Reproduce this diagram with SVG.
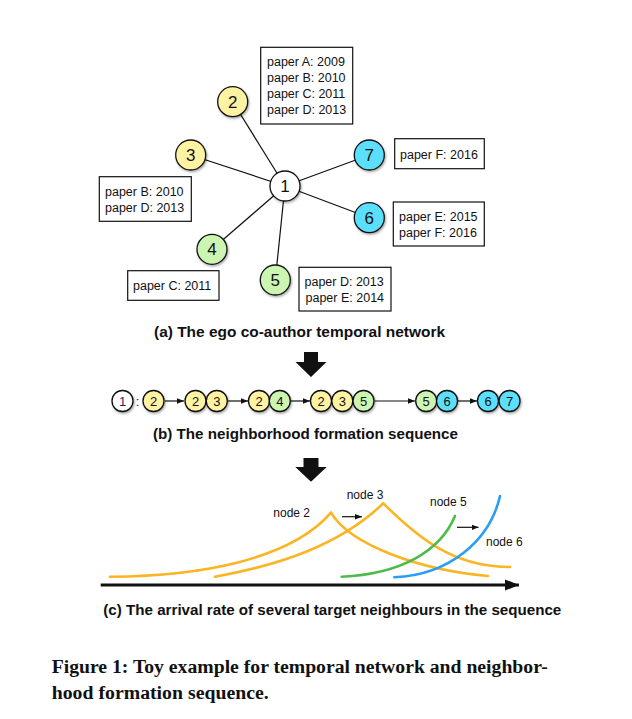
<svg xmlns="http://www.w3.org/2000/svg" width="632" height="719" viewBox="0 0 632 719">
<defs>
<style>
.nd{stroke:#111;stroke-width:1.3}
.y{fill:#FFF3A3}.g{fill:#CDF5B2}.b{fill:#5CDFFD}.w{fill:#fff}
.nt{font-family:"Liberation Sans",Arial,sans-serif;font-size:17px;fill:#111;text-anchor:middle}
.st{font-family:"Liberation Sans",Arial,sans-serif;font-size:13px;fill:#111;text-anchor:middle}
.box{fill:#fff;stroke:#111;stroke-width:1.2}
.bt{font-family:"Liberation Sans",Arial,sans-serif;font-size:12.5px;fill:#111}
.edge{stroke:#111;stroke-width:1.2;fill:none}
.cap{font-family:"Liberation Sans",Arial,sans-serif;font-size:15px;font-weight:bold;fill:#111}
.lbl{font-family:"Liberation Sans",Arial,sans-serif;font-size:12px;fill:#111}
.fig{font-family:"Liberation Serif","Times New Roman",serif;font-size:18px;font-weight:bold;fill:#111}
.cv{fill:none;stroke-width:2.6;stroke-linecap:round}
</style>
<filter id="sh" x="-30%" y="-30%" width="170%" height="170%">
<feDropShadow dx="1" dy="1.5" stdDeviation="1" flood-color="#000" flood-opacity="0.35"/>
</filter>
<marker id="ah" viewBox="0 0 10 10" refX="10" refY="5" markerWidth="7" markerHeight="7" markerUnits="userSpaceOnUse" orient="auto">
<path d="M0,1 L10,5 L0,9 z" fill="#111"/>
</marker>
<marker id="ah2" viewBox="0 0 10 10" refX="10" refY="5" markerWidth="14" markerHeight="14" markerUnits="userSpaceOnUse" orient="auto">
<path d="M0,1 L10,5 L0,9 z" fill="#111"/>
</marker>
</defs>
<rect width="632" height="719" fill="#fff"/>

<g id="connectors">
<line class="edge" x1="285" y1="186" x2="232.7" y2="101.7"/>
<line class="edge" x1="285" y1="186" x2="190.7" y2="155"/>
<line class="edge" x1="285" y1="186" x2="369.3" y2="155"/>
<line class="edge" x1="285" y1="186" x2="369.3" y2="217.7"/>
<line class="edge" x1="285" y1="186" x2="212" y2="249.3"/>
<line class="edge" x1="285" y1="186" x2="275.3" y2="280"/>
<line class="edge" x1="165" y1="401" x2="184" y2="401" marker-end="url(#ah)"/>
<line class="edge" x1="227.5" y1="401" x2="248" y2="401" marker-end="url(#ah)"/>
<line class="edge" x1="290.5" y1="401" x2="310" y2="401" marker-end="url(#ah)"/>
<line class="edge" x1="374.5" y1="401" x2="415" y2="401" marker-end="url(#ah)"/>
<line class="edge" x1="457.5" y1="401" x2="477" y2="401" marker-end="url(#ah)"/>
</g>

<g id="node1"><circle class="nd w" cx="285" cy="186" r="15" filter="url(#sh)"/><text class="nt" x="285" y="192">1</text></g>
<g id="node2"><circle class="nd y" cx="232.7" cy="101.7" r="15" filter="url(#sh)"/><text class="nt" x="232.7" y="107.7">2</text></g>
<g id="node3"><circle class="nd y" cx="190.7" cy="155" r="15" filter="url(#sh)"/><text class="nt" x="190.7" y="161">3</text></g>
<g id="node7"><circle class="nd b" cx="369.3" cy="155" r="15" filter="url(#sh)"/><text class="nt" x="369.3" y="161">7</text></g>
<g id="node6"><circle class="nd b" cx="369.3" cy="217.7" r="15" filter="url(#sh)"/><text class="nt" x="369.3" y="223.7">6</text></g>
<g id="node4"><circle class="nd g" cx="212" cy="249.3" r="15" filter="url(#sh)"/><text class="nt" x="212" y="255.3">4</text></g>
<g id="node5"><circle class="nd g" cx="275.3" cy="280" r="15" filter="url(#sh)"/><text class="nt" x="275.3" y="286">5</text></g>

<g id="box2"><rect class="box" x="260.7" y="47.3" width="92" height="76.7"/>
<text class="bt" x="267" y="66">paper A: 2009</text>
<text class="bt" x="267" y="82">paper B: 2010</text>
<text class="bt" x="267" y="98">paper C: 2011</text>
<text class="bt" x="267" y="114">paper D: 2013</text></g>
<g id="box7"><rect class="box" x="394.7" y="138.7" width="89.6" height="30"/>
<text class="bt" x="400" y="158.5">paper F: 2016</text></g>
<g id="box3"><rect class="box" x="99.3" y="176.7" width="92" height="44.6"/>
<text class="bt" x="105" y="196">paper B: 2010</text>
<text class="bt" x="105" y="212">paper D: 2013</text></g>
<g id="box6"><rect class="box" x="393.3" y="202" width="91" height="44"/>
<text class="bt" x="399" y="220.5">paper E: 2015</text>
<text class="bt" x="399" y="237">paper F: 2016</text></g>
<g id="box4"><rect class="box" x="127.7" y="270.7" width="91.3" height="29.6"/>
<text class="bt" x="133" y="290">paper C: 2011</text></g>
<g id="box5"><rect class="box" x="299" y="267.3" width="92" height="43.7"/>
<text class="bt" x="304.5" y="286">paper D: 2013</text>
<text class="bt" x="305.5" y="302">paper E: 2014</text></g>

<text class="cap" x="154" y="337" textLength="291" lengthAdjust="spacingAndGlyphs">(a) The ego co-author temporal network</text>

<g id="arrowA"><path d="M304,352 H318 V362 H326.5 L311,377 L295.5,362 H304 Z" fill="#111"/></g>

<g id="sequence">
<g filter="url(#sh)">
<circle class="nd w" cx="122.5" cy="401" r="10.5"/>
<circle class="nd y" cx="153.5" cy="401" r="10.5"/>
<circle class="nd y" cx="195.5" cy="401" r="10.5"/>
<circle class="nd y" cx="216.8" cy="401" r="10.5"/>
<circle class="nd y" cx="259" cy="401" r="10.5"/>
<circle class="nd g" cx="279.8" cy="401" r="10.5"/>
<circle class="nd y" cx="321" cy="401" r="10.5"/>
<circle class="nd y" cx="342.3" cy="401" r="10.5"/>
<circle class="nd g" cx="363.5" cy="401" r="10.5"/>
<circle class="nd g" cx="426.2" cy="401" r="10.5"/>
<circle class="nd b" cx="447" cy="401" r="10.5"/>
<circle class="nd b" cx="488" cy="401" r="10.5"/>
<circle class="nd b" cx="509.5" cy="401" r="10.5"/>
</g>
<text class="st" x="122.5" y="405.7" style="fill:#3a2050">1</text>
<text class="st" x="137.5" y="405.7">:</text>
<text class="st" x="153.5" y="405.7">2</text>
<text class="st" x="195.5" y="405.7">2</text>
<text class="st" x="216.8" y="405.7">3</text>
<text class="st" x="259" y="405.7">2</text>
<text class="st" x="279.8" y="405.7">4</text>
<text class="st" x="321" y="405.7">2</text>
<text class="st" x="342.3" y="405.7">3</text>
<text class="st" x="363.5" y="405.7">5</text>
<text class="st" x="426.2" y="405.7">5</text>
<text class="st" x="447" y="405.7">6</text>
<text class="st" x="488" y="405.7">6</text>
<text class="st" x="509.5" y="405.7">7</text>
</g>

<text class="cap" x="153" y="439" textLength="305" lengthAdjust="spacingAndGlyphs">(b) The neighborhood formation sequence</text>

<g id="arrowB"><path d="M303.5,458 H318.5 V467 H326.7 L311,481.7 L295.3,467 H303.5 Z" fill="#111"/></g>

<g id="curves">
<path class="cv" stroke="#FBB522" d="M110,576.7 C200,576 290,560 331,512.7"/>
<path class="cv" stroke="#FBB522" d="M331,512.7 C350,545 420,570 488,576"/>
<path class="cv" stroke="#FBB522" d="M215,576.7 C280,565 340,545 383.3,503.3"/>
<path class="cv" stroke="#FBB522" d="M383.3,503.3 C420,540 455,567 510,567"/>
<path class="cv" stroke="#4DBA4A" d="M341.7,576.7 C400,574 440,552 455,516"/>
<path class="cv" stroke="#2A9DF4" d="M394.3,577.3 C450,575 490,540 500,496"/>
<line x1="342" y1="516.7" x2="362" y2="516.7" stroke="#111" stroke-width="1.2" marker-end="url(#ah)"/>
<line x1="457" y1="527.3" x2="478.5" y2="527.3" stroke="#111" stroke-width="1.2" marker-end="url(#ah)"/>
<line x1="100.7" y1="585" x2="519" y2="585" stroke="#111" stroke-width="3" marker-end="url(#ah2)"/>
</g>
<text class="lbl" x="273.3" y="516.7">node 2</text>
<text class="lbl" x="346.7" y="499">node 3</text>
<text class="lbl" x="430" y="506">node 5</text>
<text class="lbl" x="486" y="545.7">node 6</text>

<text class="cap" x="103.3" y="615" textLength="458" lengthAdjust="spacingAndGlyphs">(c) The arrival rate of several target neighbours in the sequence</text>

<text class="fig" x="51.7" y="672.7" textLength="496" lengthAdjust="spacingAndGlyphs">Figure 1: Toy example for temporal network and neighbor-</text>
<text class="fig" x="51.7" y="699.3" textLength="217" lengthAdjust="spacingAndGlyphs">hood formation sequence.</text>
</svg>
